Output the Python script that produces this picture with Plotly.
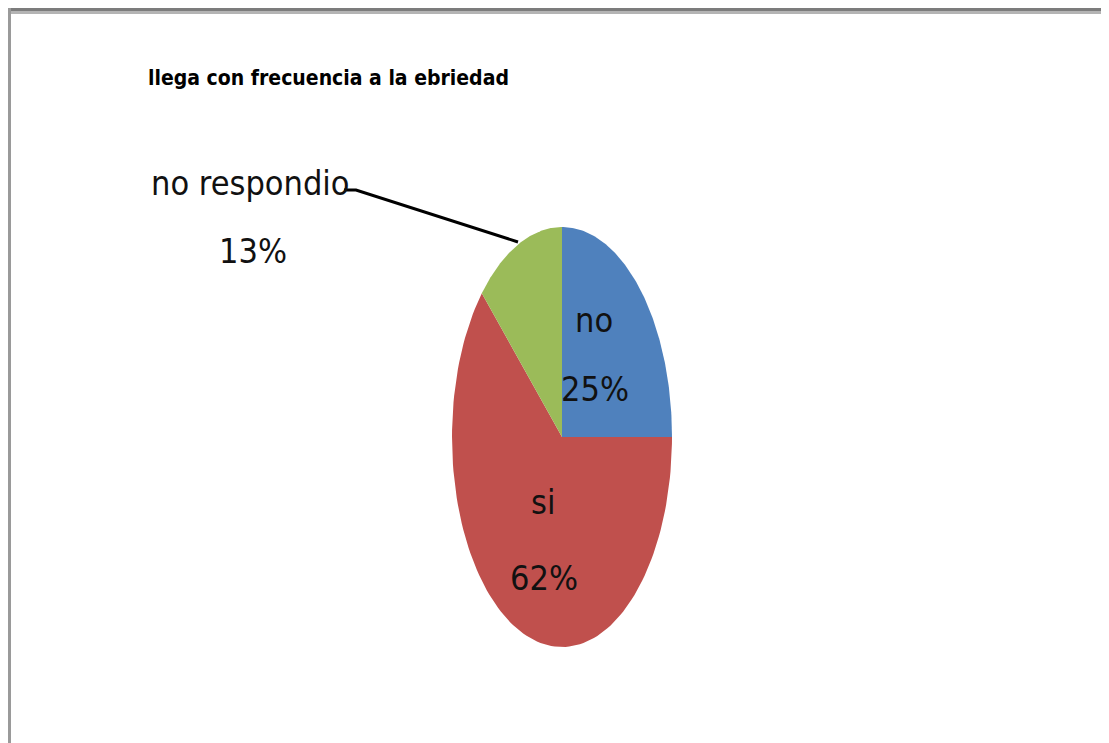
import numpy as np
import plotly.graph_objects as go

# data
categories = ["no", "si", "no respondio"]
percents = [25, 62, 13]
colors = ["#4F81BD", "#C0504D", "#9BBB59"]
title_text = "llega con frecuencia a la ebriedad"

W, H = 1109, 743
OFF = 8  # the html body margin shifts the figure by 8px; axes work in page pixels
# pie geometry in page pixels (the original pie is stretched into an ellipse)
cx, cy = 562, 437
rx, ry = 110, 210

font_lbl = "DejaVu Sans Condensed, Liberation Sans Narrow, sans-serif"

fig = go.Figure()

# wedges, clockwise from 12 o'clock like Excel
total = float(sum(percents))
start = 0.0
for name, val, col in zip(categories, percents, colors):
    end = start + val / total * 2 * np.pi
    t = np.linspace(start, end, 120)
    xs = np.concatenate([[cx], cx + rx * np.sin(t), [cx]])
    ys = np.concatenate([[cy], cy - ry * np.cos(t), [cy]])
    fig.add_trace(go.Scatter(x=xs, y=ys, mode="lines", fill="toself",
                             fillcolor=col, line=dict(width=0, color=col),
                             name=name, hoverinfo="name", showlegend=False))
    start = end

# labels: (name line, percent line) positions in page pixels
label_pos = {
    "no": ((594, 320), (595, 389)),
    "si": ((543, 502), (544, 578)),
    "no respondio": ((250, 183), (253, 251)),
}
for name, val in zip(categories, percents):
    (x1, y1), (x2, y2) = label_pos[name]
    fig.add_annotation(x=x1, y=y1, text=name, showarrow=False,
                       font=dict(family=font_lbl, size=34, color="#111"))
    fig.add_annotation(x=x2, y=y2, text="%d%%" % val, showarrow=False,
                       font=dict(family=font_lbl, size=34, color="#111"))

# leader line for "no respondio"
fig.add_shape(type="path", path="M 344 190 L 356 190 L 518 242",
              line=dict(color="black", width=3))

# title
fig.add_annotation(x=328, y=78, text="<b>%s</b>" % title_text, showarrow=False,
                   font=dict(family=font_lbl, size=21, color="black"))

# chart frame (top and left edges are visible)
fig.add_shape(type="rect", x0=8, x1=W + OFF, y0=8, y1=11, fillcolor="#7c7c7c", line_width=0)
fig.add_shape(type="rect", x0=8, x1=W + OFF, y0=11, y1=14, fillcolor="#b4b4b4", line_width=0)
fig.add_shape(type="rect", x0=8, x1=11, y0=8, y1=H + OFF, fillcolor="#9a9a9a", line_width=0)

fig.update_xaxes(range=[OFF, W + OFF], visible=False, fixedrange=True)
fig.update_yaxes(range=[H + OFF, OFF], visible=False, fixedrange=True)
fig.update_layout(width=W, height=H, margin=dict(l=0, r=0, t=0, b=0),
                  paper_bgcolor="white", plot_bgcolor="white", showlegend=False)

fig.write_html("out.html", config={"displayModeBar": False})
